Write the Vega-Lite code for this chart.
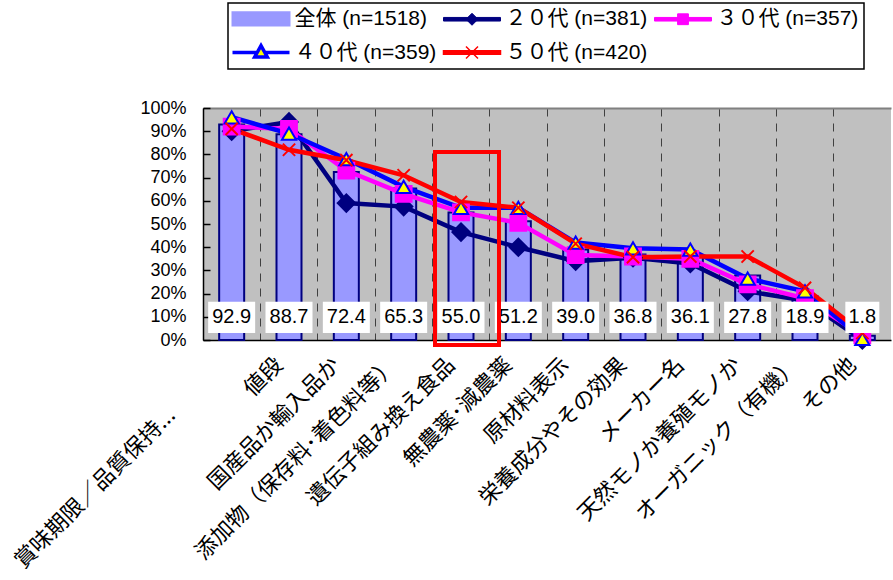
{
  "$schema": "https://vega.github.io/schema/vega-lite/v6.json",
  "width": 688,
  "height": 232,
  "autosize": {"type": "none"},
  "padding": {"left": 203, "top": 108, "right": 2, "bottom": 240},
  "background": "white",
  "config": {
    "view": {"fill": "#C0C0C0", "stroke": null}
  },
  "datasets": {
    "overall": [
      {"cat": "賞味期限／品質保持...", "value": 92.9},
      {"cat": "値段", "value": 88.7},
      {"cat": "国産品か輸入品か", "value": 72.4},
      {"cat": "添加物（保存料･着色料等）", "value": 65.3},
      {"cat": "遺伝子組み換え食品", "value": 55.0},
      {"cat": "無農薬･減農薬", "value": 51.2},
      {"cat": "原材料表示", "value": 39.0},
      {"cat": "栄養成分やその効果", "value": 36.8},
      {"cat": "メーカー名", "value": 36.1},
      {"cat": "天然モノか養殖モノか", "value": 27.8},
      {"cat": "オーガニック（有機）", "value": 18.9},
      {"cat": "その他", "value": 1.8}
    ],
    "ages": [
      {"series": "２０代 (n=381)", "cat": "賞味期限／品質保持...", "value": 90},
      {"series": "２０代 (n=381)", "cat": "値段", "value": 94},
      {"series": "２０代 (n=381)", "cat": "国産品か輸入品か", "value": 59},
      {"series": "２０代 (n=381)", "cat": "添加物（保存料･着色料等）", "value": 57.5},
      {"series": "２０代 (n=381)", "cat": "遺伝子組み換え食品", "value": 46.5},
      {"series": "２０代 (n=381)", "cat": "無農薬･減農薬", "value": 40},
      {"series": "２０代 (n=381)", "cat": "原材料表示", "value": 34},
      {"series": "２０代 (n=381)", "cat": "栄養成分やその効果", "value": 35.5},
      {"series": "２０代 (n=381)", "cat": "メーカー名", "value": 33},
      {"series": "２０代 (n=381)", "cat": "天然モノか養殖モノか", "value": 21},
      {"series": "２０代 (n=381)", "cat": "オーガニック（有機）", "value": 17},
      {"series": "２０代 (n=381)", "cat": "その他", "value": 0},
      {"series": "３０代 (n=357)", "cat": "賞味期限／品質保持...", "value": 92},
      {"series": "３０代 (n=357)", "cat": "値段", "value": 91},
      {"series": "３０代 (n=357)", "cat": "国産品か輸入品か", "value": 73},
      {"series": "３０代 (n=357)", "cat": "添加物（保存料･着色料等）", "value": 63},
      {"series": "３０代 (n=357)", "cat": "遺伝子組み換え食品", "value": 55},
      {"series": "３０代 (n=357)", "cat": "無農薬･減農薬", "value": 50.5},
      {"series": "３０代 (n=357)", "cat": "原材料表示", "value": 36.6},
      {"series": "３０代 (n=357)", "cat": "栄養成分やその効果", "value": 36},
      {"series": "３０代 (n=357)", "cat": "メーカー名", "value": 35},
      {"series": "３０代 (n=357)", "cat": "天然モノか養殖モノか", "value": 24},
      {"series": "３０代 (n=357)", "cat": "オーガニック（有機）", "value": 18},
      {"series": "３０代 (n=357)", "cat": "その他", "value": 2},
      {"series": "４０代 (n=359)", "cat": "賞味期限／品質保持...", "value": 96},
      {"series": "４０代 (n=359)", "cat": "値段", "value": 89},
      {"series": "４０代 (n=359)", "cat": "国産品か輸入品か", "value": 78},
      {"series": "４０代 (n=359)", "cat": "添加物（保存料･着色料等）", "value": 66},
      {"series": "４０代 (n=359)", "cat": "遺伝子組み換え食品", "value": 57},
      {"series": "４０代 (n=359)", "cat": "無農薬･減農薬", "value": 57},
      {"series": "４０代 (n=359)", "cat": "原材料表示", "value": 42},
      {"series": "４０代 (n=359)", "cat": "栄養成分やその効果", "value": 39.5},
      {"series": "４０代 (n=359)", "cat": "メーカー名", "value": 39},
      {"series": "４０代 (n=359)", "cat": "天然モノか養殖モノか", "value": 26.5},
      {"series": "４０代 (n=359)", "cat": "オーガニック（有機）", "value": 21},
      {"series": "４０代 (n=359)", "cat": "その他", "value": 0.5},
      {"series": "５０代 (n=420)", "cat": "賞味期限／品質保持...", "value": 91},
      {"series": "５０代 (n=420)", "cat": "値段", "value": 82},
      {"series": "５０代 (n=420)", "cat": "国産品か輸入品か", "value": 77.5},
      {"series": "５０代 (n=420)", "cat": "添加物（保存料･着色料等）", "value": 71},
      {"series": "５０代 (n=420)", "cat": "遺伝子組み換え食品", "value": 59.5},
      {"series": "５０代 (n=420)", "cat": "無農薬･減農薬", "value": 57},
      {"series": "５０代 (n=420)", "cat": "原材料表示", "value": 41.5},
      {"series": "５０代 (n=420)", "cat": "栄養成分やその効果", "value": 35.7},
      {"series": "５０代 (n=420)", "cat": "メーカー名", "value": 36},
      {"series": "５０代 (n=420)", "cat": "天然モノか養殖モノか", "value": 36},
      {"series": "５０代 (n=420)", "cat": "オーガニック（有機）", "value": 22.5},
      {"series": "５０代 (n=420)", "cat": "その他", "value": 3}
    ],
    "highlight": [
      {"cat": "遺伝子組み換え食品"}
    ]
  },
  "encoding": {
    "x": {
      "field": "cat", "type": "nominal",
      "scale": {"domain": ["賞味期限／品質保持...", "値段", "国産品か輸入品か", "添加物（保存料･着色料等）", "遺伝子組み換え食品", "無農薬･減農薬", "原材料表示", "栄養成分やその効果", "メーカー名", "天然モノか養殖モノか", "オーガニック（有機）", "その他"], "paddingInner": 0, "paddingOuter": 0},
      "axis": null
    }
  },
  "layer": [
    {
      "data": {"name": "overall"},
      "mark": {"type": "bar", "width": 25, "fill": "#9999FF", "stroke": "#000080", "strokeWidth": 2},
      "encoding": {
        "x": {
          "field": "cat", "type": "nominal",
          "scale": {"domain": ["賞味期限／品質保持...", "値段", "国産品か輸入品か", "添加物（保存料･着色料等）", "遺伝子組み換え食品", "無農薬･減農薬", "原材料表示", "栄養成分やその効果", "メーカー名", "天然モノか養殖モノか", "オーガニック（有機）", "その他"], "paddingInner": 0, "paddingOuter": 0},
          "axis": {
            "orient": "bottom", "title": null,
            "labelAngle": -45, "labelAlign": "right", "labelBaseline": "middle",
            "labelFont": "Noto Sans CJK JP", "labelFontSize": 22, "labelColor": "black",
            "labelPadding": 21, "labelOffset": -10, "labelLimit": 400, "labelOverlap": false,
            "labelExpr": "datum.value === '賞味期限／品質保持...' ? datum.value + '\u3000\u3000\u3000\u00a0\u2060' : datum.value",
            "ticks": false, "domainColor": "black", "domainWidth": 1.5,
            "grid": true, "gridColor": "#404040", "gridDash": [8, 7], "gridWidth": 1, "bandPosition": 0
          }
        },
        "y": {
          "field": "value", "type": "quantitative",
          "scale": {"domain": [0, 100], "nice": false},
          "axis": {
            "title": null, "values": [0, 10, 20, 30, 40, 50, 60, 70, 80, 90, 100],
            "labelExpr": "datum.value + '%'", "labelFont": "Liberation Sans", "labelFontSize": 18, "labelColor": "black",
            "tickSize": -7, "tickColor": "black", "tickWidth": 1.5, "labelPadding": 24,
            "domainColor": "black", "domainWidth": 1.5, "grid": false
          }
        }
      }
    },
    {
      "data": {"name": "ages"},
      "mark": {"type": "line", "strokeWidth": 4.5},
      "encoding": {
        "y": {"field": "value", "type": "quantitative", "scale": {"domain": [0, 100], "nice": false}, "axis": null},
        "order": {"value": null},
        "color": {
          "field": "series", "type": "nominal",
          "scale": {"domain": ["全体 (n=1518)", "２０代 (n=381)", "３０代 (n=357)", "４０代 (n=359)", "５０代 (n=420)"], "range": ["#9999FF", "#000080", "#FF00FF", "#0000FF", "#FF0000"]},
          "legend": {
            "orient": "none", "legendX": 25, "legendY": -105, "title": null, "direction": "horizontal",
            "columns": 3, "gridAlign": "all", "columnPadding": 3, "rowPadding": 8, "padding": 5,
            "strokeColor": "black", "fillColor": "white",
            "symbolSize": 144, "symbolOffset": 17.5, "labelOffset": 23,
            "labelFont": "Liberation Sans, Noto Sans CJK JP", "labelFontSize": 21, "labelColor": "black", "labelLimit": 300,
            "encode": {
              "legend": {"update": {"strokeWidth": {"value": 1.5}}},
              "symbols": {"update": {
                "shape": {"signal": "datum.value === '全体 (n=1518)' ? 'M-4.75,-1.1H4.75V1.1H-4.75Z' : datum.value === '２０代 (n=381)' ? 'M-4.75,-0.3H4.75V0.3H-4.75Z M0,-1L1,0L0,1L-1,0Z' : datum.value === '３０代 (n=357)' ? 'M-4.75,-0.3H4.75V0.3H-4.75Z M-0.9,-0.9H0.9V0.9H-0.9Z' : datum.value === '４０代 (n=359)' ? 'M-4.75,0H-0.64 M0.64,0H4.75 M0,-1.15L1.05,0.75H-1.05Z' : 'M-4.75,-0.3H4.75V0.3H-4.75Z M-1,-1L1,1 M-1,1L1,-1'"},
                "fill": {"signal": "datum.value === '全体 (n=1518)' ? '#9999FF' : datum.value === '２０代 (n=381)' ? '#000080' : datum.value === '３０代 (n=357)' ? '#FF00FF' : datum.value === '４０代 (n=359)' ? '#FFFF00' : '#FF0000'"},
                "stroke": {"signal": "datum.value === '全体 (n=1518)' ? '#000080' : datum.value === '２０代 (n=381)' ? '#000080' : datum.value === '３０代 (n=357)' ? '#FF00FF' : datum.value === '４０代 (n=359)' ? '#0000FF' : '#FF0000'"},
                "strokeWidth": {"signal": "datum.value === '全体 (n=1518)' ? 2 : datum.value === '４０代 (n=359)' ? 3.5 : datum.value === '５０代 (n=420)' ? 1.5 : 1"},
                "opacity": {"value": 1},
                "fillOpacity": {"value": 1},
                "strokeOpacity": {"value": 1}
              }}
            }
          }
        }
      }
    },
    {
      "data": {"name": "ages"},
      "mark": {"type": "point", "strokeWidth": 2, "opacity": 1},
      "encoding": {
        "y": {"field": "value", "type": "quantitative", "scale": {"domain": [0, 100], "nice": false}, "axis": null},
        "shape": {"field": "series", "type": "nominal", "scale": {"domain": ["２０代 (n=381)", "３０代 (n=357)", "４０代 (n=359)", "５０代 (n=420)"], "range": ["diamond", "square", "triangle-up", "M-1,-1L1,1M-1,1L1,-1"]}, "legend": null},
        "fill": {"field": "series", "type": "nominal", "scale": {"domain": ["２０代 (n=381)", "３０代 (n=357)", "４０代 (n=359)", "５０代 (n=420)"], "range": ["#000080", "#FF00FF", "#FFFF00", "transparent"]}, "legend": null},
        "stroke": {"field": "series", "type": "nominal", "scale": {"domain": ["２０代 (n=381)", "３０代 (n=357)", "４０代 (n=359)", "５０代 (n=420)"], "range": ["#000080", "#FF00FF", "#0000FF", "#FF0000"]}, "legend": null},
        "size": {"field": "series", "type": "ordinal", "scale": {"domain": ["２０代 (n=381)", "３０代 (n=357)", "４０代 (n=359)", "５０代 (n=420)"], "range": [300, 150, 420, 400]}, "legend": null}
      }
    },
    {
      "data": {"name": "overall"},
      "mark": {"type": "bar", "fill": "white"},
      "encoding": {
        "x": {
          "field": "cat", "type": "nominal",
          "scale": {"domain": ["賞味期限／品質保持...", "値段", "国産品か輸入品か", "添加物（保存料･着色料等）", "遺伝子組み換え食品", "無農薬･減農薬", "原材料表示", "栄養成分やその効果", "メーカー名", "天然モノか養殖モノか", "オーガニック（有機）", "その他"], "paddingInner": 0, "paddingOuter": 0},
          "axis": {"orient": "top", "title": null, "labels": false, "ticks": false, "grid": false, "domainColor": "#808080", "domainWidth": 2}
        },
        "y": {"datum": 3, "type": "quantitative", "scale": {"domain": [0, 100], "nice": false}, "axis": null},
        "y2": {"datum": 16.5},
        "size": {"field": "value", "type": "quantitative", "scale": {"type": "threshold", "domain": [10], "range": [34, 47]}, "legend": null}
      }
    },
    {
      "data": {"name": "overall"},
      "mark": {"type": "text", "font": "Liberation Sans", "fontSize": 20, "color": "black", "baseline": "middle"},
      "encoding": {
        "y": {"datum": 9.9, "type": "quantitative", "scale": {"domain": [0, 100], "nice": false}, "axis": null},
        "text": {"field": "value", "type": "quantitative", "format": ".1f"}
      }
    },
    {
      "data": {"name": "highlight"},
      "mark": {"type": "bar", "width": 64, "xOffset": 6, "filled": false, "stroke": "#FF0000", "strokeWidth": 4},
      "encoding": {
        "y": {"datum": 81, "type": "quantitative", "scale": {"domain": [0, 100], "nice": false}, "axis": null},
        "y2": {"datum": -2.2}
      }
    }
  ],
  "resolve": {"axis": {"x": "independent", "y": "independent"}}
}
